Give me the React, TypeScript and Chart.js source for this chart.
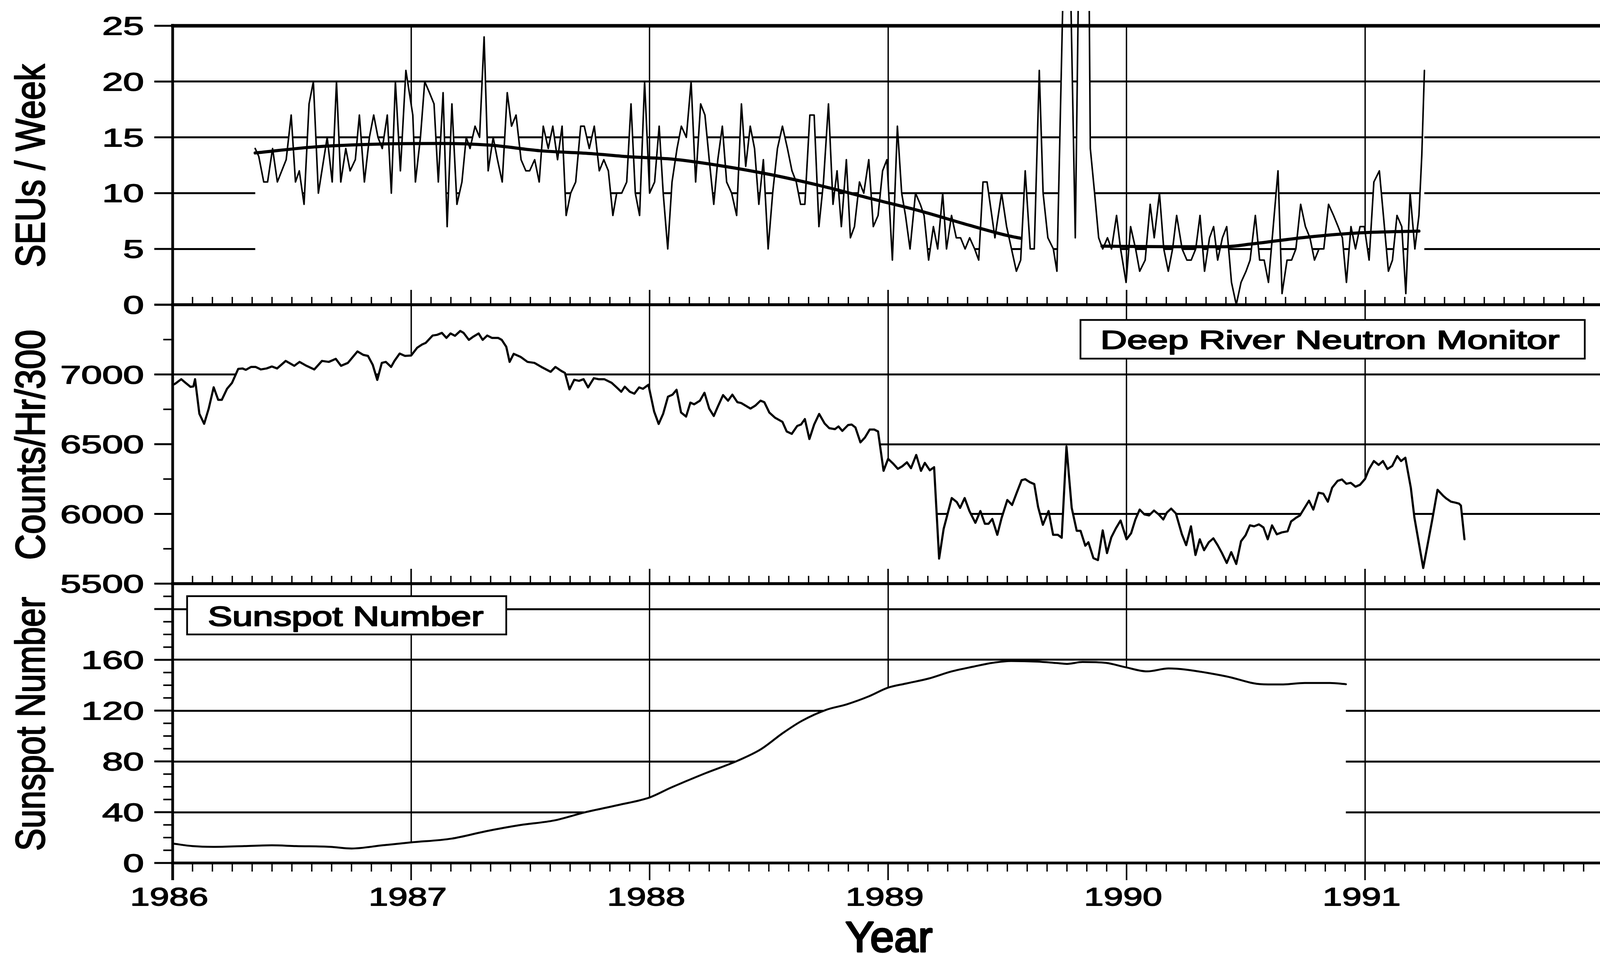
import { useEffect, useRef } from "react";
import { Chart, registerables } from "chart.js";
Chart.register(...registerables);

// ---------------- data ----------------
const yearTicks = [1986, 1987, 1988, 1989, 1990, 1991];
const seuTicks = [0, 5, 10, 15, 20, 25];
const neutronTicks = [5500, 6000, 6500, 7000];
const sunspotTicks = [0, 40, 80, 120, 160];

// weekly SEU counts (decimal year, count); off-scale spikes near 1989.8 run past the top
const seuYears = [
  1986.346, 1986.361, 1986.382, 1986.398, 1986.419, 1986.439, 1986.476, 1986.497, 1986.515, 1986.531,
  1986.551, 1986.572, 1986.59, 1986.611, 1986.648, 1986.669, 1986.687, 1986.705, 1986.726, 1986.744,
  1986.766, 1986.783, 1986.804, 1986.825, 1986.843, 1986.861, 1986.879, 1986.9, 1986.917, 1986.934,
  1986.955, 1986.978, 1987.007, 1987.018, 1987.039, 1987.057, 1987.077, 1987.096, 1987.114, 1987.134,
  1987.151, 1987.171, 1987.192, 1987.213, 1987.231, 1987.247, 1987.268, 1987.287, 1987.306, 1987.323,
  1987.344, 1987.362, 1987.382, 1987.403, 1987.421, 1987.44, 1987.461, 1987.481, 1987.497, 1987.518,
  1987.537, 1987.554, 1987.575, 1987.594, 1987.614, 1987.633, 1987.65, 1987.669, 1987.69, 1987.711,
  1987.726, 1987.747, 1987.768, 1987.789, 1987.808, 1987.827, 1987.846, 1987.862, 1987.883, 1987.904,
  1987.922, 1987.94, 1987.958, 1987.979, 1988.0, 1988.021, 1988.04, 1988.057, 1988.076, 1988.094,
  1988.115, 1988.133, 1988.154, 1988.174, 1988.193, 1988.214, 1988.232, 1988.25, 1988.269, 1988.286,
  1988.305, 1988.323, 1988.344, 1988.365, 1988.385, 1988.403, 1988.422, 1988.44, 1988.458, 1988.477,
  1988.497, 1988.516, 1988.536, 1988.557, 1988.578, 1988.597, 1988.615, 1988.633, 1988.651, 1988.672,
  1988.69, 1988.71, 1988.729, 1988.75, 1988.769, 1988.786, 1988.804, 1988.825, 1988.842, 1988.859,
  1988.88, 1988.898, 1988.919, 1988.938, 1988.958, 1988.977, 1988.995, 1989.018, 1989.039, 1989.057,
  1989.073, 1989.092, 1989.115, 1989.135, 1989.151, 1989.17, 1989.19, 1989.208, 1989.229, 1989.245,
  1989.266, 1989.286, 1989.304, 1989.323, 1989.342, 1989.363, 1989.38, 1989.398, 1989.415, 1989.448,
  1989.476, 1989.497, 1989.538, 1989.556, 1989.575, 1989.596, 1989.613, 1989.634, 1989.65, 1989.67,
  1989.693, 1989.708, 1989.751, 1989.785, 1989.808, 1989.837, 1989.848, 1989.866, 1989.883, 1989.9,
  1989.92, 1989.937, 1989.958, 1989.975, 1989.998, 1990.017, 1990.038, 1990.055, 1990.078, 1990.099,
  1990.116, 1990.138, 1990.156, 1990.175, 1990.193, 1990.21, 1990.233, 1990.253, 1990.271, 1990.29,
  1990.308, 1990.327, 1990.348, 1990.365, 1990.382, 1990.402, 1990.42, 1990.44, 1990.46, 1990.48,
  1990.501, 1990.518, 1990.54, 1990.558, 1990.577, 1990.595, 1990.615, 1990.635, 1990.652, 1990.673,
  1990.692, 1990.71, 1990.73, 1990.75, 1990.769, 1990.788, 1990.807, 1990.827, 1990.847, 1990.868,
  1990.887, 1990.905, 1990.922, 1990.941, 1990.96, 1990.979, 1990.997, 1991.017, 1991.037, 1991.06,
  1991.077, 1991.098, 1991.115, 1991.134, 1991.154, 1991.171, 1991.189, 1991.209, 1991.226, 1991.238,
  1991.249,
];
const seuCounts = [
  14, 13.3, 11, 11, 14, 11, 13, 17, 11, 12,
  9, 18, 20, 10, 15, 11, 20, 11, 14, 12,
  13, 17, 11, 15, 17, 15, 14, 17, 10, 20,
  12, 21, 17, 11, 15, 20, 19, 18, 11, 19,
  7, 18, 9, 11, 15, 14, 16, 15, 24, 12,
  15, 13, 11, 19, 16, 17, 13, 12, 12, 13,
  11, 16, 14, 16, 13, 16, 8, 10, 11, 16,
  16, 14, 16, 12, 13, 12, 8, 10, 10, 11,
  18, 10, 8, 20, 10, 11, 16, 10, 5, 11,
  14, 16, 15, 20, 11, 18, 17, 13, 9, 13,
  16, 11, 10, 8, 18, 12.4, 16, 14, 9, 13,
  5, 10, 14, 16, 14, 12, 11, 9, 9, 17,
  17, 7, 11, 18, 9, 12, 7, 13, 6, 7,
  11, 10, 13, 7, 8, 12, 13, 4, 16, 10,
  8, 5, 10, 9, 8, 4, 7, 5, 10, 5,
  8, 6, 6, 5, 6, 5, 4, 11, 11, 6,
  10, 7, 3, 4, 12, 5, 5, 21, 10, 6,
  5, 3, 45, 6, 45, 45, 14, 10, 6, 5,
  6, 5, 8, 5, 2, 7, 5, 3, 4, 9,
  6, 10, 5, 3, 5, 8, 5, 4, 4, 5,
  8, 3, 6, 7, 4, 6, 7, 2, 0, 2,
  3, 4, 8, 4, 4, 2, 7, 12, 1, 4,
  4, 5, 9, 7, 6, 4, 5, 5, 9, 8,
  7, 6, 2, 7, 5, 7, 7, 4, 11, 12,
  8, 3, 4, 8, 7, 1, 10, 5, 8, 13.4,
  21,
];

// smooth SEU trend (two pieces, null = gap)
const trendYears = [
  1986.346, 1986.6, 1986.87, 1987.12, 1987.33, 1987.54, 1987.75, 1987.92, 1988.094, 1988.3,
  1988.51, 1988.72, 1988.93, 1989.135, 1989.344, 1989.5, 1989.557, 1989.75, 1989.897, 1990.18,
  1990.41, 1990.526, 1990.755, 1990.985, 1991.226,
];
const trendValues = [
  13.6, 14.15, 14.4, 14.45, 14.3, 13.8, 13.55, 13.25, 13.05, 12.45,
  11.65, 10.65, 9.5, 8.4, 7.1, 6.2, 5.95, null, 5.25, 5.2,
  5.2, 5.45, 6.05, 6.45, 6.6,
];

// Deep River neutron monitor (counts/hr/300)
const neutronYears = [
  1986.0, 1986.01, 1986.036, 1986.054, 1986.075, 1986.087, 1986.094, 1986.112, 1986.132, 1986.151,
  1986.172, 1986.191, 1986.206, 1986.228, 1986.249, 1986.275, 1986.293, 1986.307, 1986.329, 1986.348,
  1986.37, 1986.394, 1986.416, 1986.438, 1986.474, 1986.51, 1986.532, 1986.561, 1986.594, 1986.626,
  1986.655, 1986.684, 1986.706, 1986.735, 1986.749, 1986.775, 1986.8, 1986.819, 1986.839, 1986.858,
  1986.877, 1986.894, 1986.916, 1986.93, 1986.952, 1986.974, 1987.0, 1987.025, 1987.046, 1987.061,
  1987.09, 1987.109, 1987.129, 1987.148, 1987.165, 1987.184, 1987.206, 1987.22, 1987.242, 1987.259,
  1987.283, 1987.3, 1987.319, 1987.339, 1987.365, 1987.38, 1987.399, 1987.413, 1987.43, 1987.459,
  1987.488, 1987.517, 1987.546, 1987.585, 1987.605, 1987.629, 1987.645, 1987.664, 1987.684, 1987.704,
  1987.723, 1987.742, 1987.766, 1987.786, 1987.81, 1987.841, 1987.862, 1987.881, 1987.896, 1987.917,
  1987.936, 1987.956, 1987.972, 1987.995, 1988.019, 1988.038, 1988.057, 1988.077, 1988.096, 1988.113,
  1988.132, 1988.153, 1988.171, 1988.187, 1988.211, 1988.23, 1988.25, 1988.269, 1988.286, 1988.308,
  1988.329, 1988.347, 1988.368, 1988.384, 1988.423, 1988.443, 1988.465, 1988.481, 1988.502, 1988.525,
  1988.557, 1988.575, 1988.596, 1988.619, 1988.635, 1988.651, 1988.67, 1988.69, 1988.711, 1988.734,
  1988.753, 1988.777, 1988.792, 1988.808, 1988.832, 1988.847, 1988.863, 1988.884, 1988.903, 1988.923,
  1988.942, 1988.958, 1988.981, 1989.0, 1989.02, 1989.041, 1989.06, 1989.079, 1989.096, 1989.118,
  1989.138, 1989.154, 1989.175, 1989.193, 1989.214, 1989.233, 1989.267, 1989.288, 1989.302, 1989.321,
  1989.341, 1989.366, 1989.387, 1989.406, 1989.421, 1989.437, 1989.458, 1989.476, 1989.5, 1989.52,
  1989.539, 1989.56, 1989.575, 1989.594, 1989.613, 1989.629, 1989.649, 1989.673, 1989.692, 1989.712,
  1989.728, 1989.748, 1989.77, 1989.791, 1989.807, 1989.827, 1989.84, 1989.861, 1989.88, 1989.9,
  1989.918, 1989.936, 1989.955, 1989.975, 1990.0, 1990.019, 1990.037, 1990.055, 1990.075, 1990.094,
  1990.115, 1990.135, 1990.154, 1990.169, 1990.187, 1990.207, 1990.232, 1990.25, 1990.27, 1990.289,
  1990.307, 1990.325, 1990.345, 1990.364, 1990.382, 1990.4, 1990.42, 1990.439, 1990.46, 1990.48,
  1990.499, 1990.517, 1990.535, 1990.555, 1990.574, 1990.592, 1990.61, 1990.63, 1990.652, 1990.675,
  1990.69, 1990.712, 1990.727, 1990.742, 1990.765, 1990.783, 1990.805, 1990.825, 1990.844, 1990.862,
  1990.885, 1990.903, 1990.922, 1990.94, 1990.96, 1990.979, 1991.0, 1991.017, 1991.037, 1991.057,
  1991.075, 1991.094, 1991.114, 1991.135, 1991.151, 1991.169, 1991.192, 1991.207, 1991.244, 1991.282,
  1991.304, 1991.327, 1991.342, 1991.36, 1991.379, 1991.394, 1991.402, 1991.417,
];
const neutronCounts = [
  6925, 6933, 6966, 6940, 6911, 6914, 6966, 6718, 6646, 6754,
  6908, 6818, 6818, 6897, 6940, 7040, 7043, 7033, 7054, 7054,
  7036, 7043, 7057, 7043, 7097, 7062, 7090, 7062, 7036, 7097,
  7090, 7112, 7062, 7083, 7112, 7165, 7140, 7133, 7069, 6961,
  7083, 7090, 7054, 7097, 7150, 7133, 7136, 7191, 7215, 7226,
  7279, 7284, 7298, 7262, 7294, 7277, 7312, 7298, 7248, 7269,
  7294, 7248, 7279, 7262, 7262, 7248, 7198, 7090, 7148, 7126,
  7090, 7083, 7054, 7019, 7054, 7026, 7011, 6893, 6962, 6954,
  6966, 6907, 6973, 6966, 6966, 6940, 6907, 6876, 6912, 6876,
  6862, 6907, 6897, 6926, 6734, 6645, 6719, 6840, 6855, 6890,
  6727, 6698, 6798, 6786, 6812, 6869, 6755, 6702, 6769, 6852,
  6812, 6855, 6801, 6795, 6755, 6776, 6812, 6801, 6727, 6691,
  6660, 6591, 6574, 6631, 6641, 6680, 6537, 6641, 6717, 6648,
  6615, 6608, 6627, 6595, 6637, 6641, 6620, 6513, 6548, 6605,
  6605, 6591, 6309, 6395, 6363, 6323, 6342, 6370, 6328, 6423,
  6309, 6366, 6313, 6335, 5680, 5893, 6114, 6085, 6043, 6114,
  6021, 5936, 6021, 5929, 5929, 5964, 5850, 5971, 6100, 6064,
  6150, 6242, 6249, 6228, 6214, 6050, 5922, 6021, 5850, 5850,
  5829, 6484, 6043, 5879, 5879, 5772, 5797, 5683, 5669, 5882,
  5719, 5832, 5896, 5953, 5818, 5861, 5960, 6031, 5996, 5989,
  6024, 5996, 5960, 6010, 6038, 6003, 5854, 5776, 5911, 5705,
  5818, 5740, 5797, 5825, 5776, 5719, 5648, 5726, 5641, 5804,
  5847, 5918, 5911, 5925, 5903, 5818, 5918, 5854, 5868, 5875,
  5946, 5974, 5989, 6031, 6095, 6031, 6152, 6145, 6088, 6188,
  6237, 6247, 6216, 6223, 6195, 6209, 6251, 6322, 6379, 6351,
  6379, 6322, 6344, 6415, 6379, 6403, 6188, 5974, 5612, 5960,
  6173, 6131, 6109, 6088, 6081, 6074, 6060, 5818,
];

// smoothed sunspot number
const sunspotYears = [
  1986.0, 1986.083, 1986.17, 1986.3, 1986.416, 1986.517, 1986.662, 1986.75, 1986.88, 1987.0,
  1987.17, 1987.314, 1987.459, 1987.6, 1987.729, 1987.87, 1988.0, 1988.089, 1988.23, 1988.371,
  1988.466, 1988.56, 1988.638, 1988.74, 1988.826, 1988.92, 1989.0, 1989.077, 1989.171, 1989.265,
  1989.359, 1989.437, 1989.516, 1989.625, 1989.704, 1989.75, 1989.815, 1989.913, 1989.995, 1990.086,
  1990.176, 1990.251, 1990.417, 1990.567, 1990.657, 1990.747, 1990.853, 1990.92,
];
const sunspotValues = [
  15.3, 13.3, 12.7, 13.3, 13.9, 13.3, 12.7, 11.4, 13.9, 16.2,
  19.2, 25, 29.9, 33.5, 39.9, 45.7, 51.6, 59.3, 70.4, 80.7,
  89.5, 102.5, 111.9, 120.6, 124.9, 131.3, 138.1, 141.4, 145.3, 150.8,
  154.7, 157.6, 159.1, 158.6, 157.5, 156.8, 158.3, 157.6, 154.2, 150.9,
  153.2, 152.2, 147, 140.8, 140.6, 141.8, 141.8, 140.8,
];

// ---------------- layout / style ----------------
const PAGE_W = 4137;
const PAGE_H = 2442;
const PLOT_L = 442;
const PLOT_R = 4105;
const INK = "#000";
const FONT = '"Liberation Sans", Arial, Helvetica, sans-serif';

type Box = { x: number; y: number; w: number; h: number; text: string; tx: number; base: number; capH: number; width: number };
type PanelSpec = {
  canvasTop: number;
  canvasBottom: number;
  top: number;
  bottom: number;
  min: number;
  max: number;
  step: number;
  minorStep: number;
  labels: number[];
  title: string;
  titleCenter: number;
  titleWidth: number;
  topW: number;
  ticksDown: boolean;
  box?: Box;
  xLabels?: boolean;
};

const PANELS: PanelSpec[] = [
  { canvasTop: 0, canvasBottom: 830, top: 66, bottom: 780, min: 0, max: 25, step: 5, minorStep: 0,
    labels: seuTicks, title: "SEUs / Week", titleCenter: 422, titleWidth: 518, topW: 9, ticksDown: false },
  { canvasTop: 760, canvasBottom: 1530, top: 780, bottom: 1494, min: 5500, max: 7500, step: 500, minorStep: 250,
    labels: neutronTicks, title: "Counts/Hr/300", titleCenter: 1138, titleWidth: 582, topW: 7, ticksDown: false,
    box: { x: 2766, y: 819, w: 1291, h: 99, text: "Deep River Neutron Monitor", tx: 2824, base: 893, capH: 48, width: 1168 } },
  { canvasTop: 1470, canvasBottom: PAGE_H, top: 1494, bottom: 2209, min: 0, max: 220, step: 40, minorStep: 10,
    labels: sunspotTicks, title: "Sunspot Number", titleCenter: 1852, titleWidth: 646, topW: 7, ticksDown: true,
    box: { x: 479, y: 1526, w: 817, h: 98, text: "Sunspot Number", tx: 536, base: 1602, capH: 51, width: 701 },
    xLabels: true },
];

function seg(ctx: CanvasRenderingContext2D, x1: number, y1: number, x2: number, y2: number) {
  ctx.beginPath();
  ctx.moveTo(x1, y1);
  ctx.lineTo(x2, y2);
  ctx.stroke();
}

// draws text whose visible box is placed by (x, baseline) with a horizontal stretch;
// a thin outline of the same ink gives the heavier, scanned look of the original lettering
function drawText(
  ctx: CanvasRenderingContext2D, text: string, x: number, y: number, capH: number,
  o: { width?: number; stretch?: number; align?: "left" | "center" | "right"; rotate?: boolean; weight?: number }
) {
  const size = capH / 0.716;
  ctx.save();
  ctx.font = `${size}px ${FONT}`;
  ctx.textAlign = "left";
  ctx.textBaseline = "alphabetic";
  ctx.fillStyle = INK;
  ctx.strokeStyle = INK;
  ctx.lineJoin = "round";
  const m = ctx.measureText(text);
  const L = m.actualBoundingBoxLeft;
  const R = m.actualBoundingBoxRight;
  const vis = L + R;
  const sx = o.width ? o.width / vis : o.stretch ?? 1;
  const align = o.align ?? "left";
  const dx = align === "left" ? L : align === "center" ? (L - R) / 2 : -R;
  ctx.translate(x, y);
  if (o.rotate) ctx.rotate(-Math.PI / 2);
  ctx.scale(sx, 1);
  ctx.fillText(text, dx, 0);
  ctx.lineWidth = (o.weight ?? 0.03) * size;
  ctx.strokeText(text, dx, 0);
  ctx.restore();
}

function panelPlugin(p: PanelSpec, idx: number) {
  const off = p.canvasTop;
  return {
    id: "panelFrame" + idx,
    afterDatasetsDraw(chart: any) {
      const { ctx, chartArea: a } = chart;
      const xs = chart.scales.x;
      const ys = chart.scales.y;
      ctx.save();
      ctx.strokeStyle = INK;
      ctx.lineCap = "butt";
      // monthly ticks along the bottom of the panel
      for (let m = 1; m < 72; m++) {
        const major = m % 12 === 0;
        const px = xs.getPixelForValue(1986 + m / 12);
        const len = p.ticksDown ? (major ? 44 : 22) : major ? 38 : 20;
        ctx.lineWidth = major ? 4 : 3.5;
        seg(ctx, px, a.bottom, px, p.ticksDown ? a.bottom + len : a.bottom - len);
      }
      // y ticks (outward)
      for (let v = p.min; v <= p.max + 1e-9; v += p.step) {
        const py = ys.getPixelForValue(v);
        ctx.lineWidth = 5;
        seg(ctx, a.left - 47, py, a.left, py);
      }
      if (p.minorStep) {
        for (let v = p.min; v <= p.max + 1e-9; v += p.minorStep) {
          if (Math.abs((v - p.min) % p.step) < 1e-9) continue;
          const py = ys.getPixelForValue(v);
          ctx.lineWidth = 4;
          seg(ctx, a.left - 24, py, a.left, py);
        }
      }
      // frame
      const ext = p.ticksDown ? 44 : 0;
      ctx.lineWidth = p.topW;
      seg(ctx, a.left - 4, a.top, a.right + 5, a.top);
      ctx.lineWidth = 7;
      seg(ctx, a.left - 4, a.bottom, a.right + 5, a.bottom);
      ctx.lineWidth = 7;
      seg(ctx, a.left, a.top - p.topW / 2, a.left, a.bottom + ext);
      ctx.lineWidth = 9;
      seg(ctx, a.right, a.top - p.topW / 2, a.right, a.bottom + ext);
      ctx.restore();
    },
    afterDraw(chart: any) {
      const { ctx, chartArea: a } = chart;
      const xs = chart.scales.x;
      const ys = chart.scales.y;
      // tick labels
      p.labels.forEach((v) => {
        const py = ys.getPixelForValue(v);
        drawText(ctx, String(v), a.left - 76, py + 23, 46, { stretch: 1.5, align: "right" });
      });
      // axis title
      drawText(ctx, p.title, 114, p.titleCenter - off, 76, { width: p.titleWidth, align: "center", rotate: true, weight: 0.028 });
      // legend box
      if (p.box) {
        const b = p.box;
        ctx.save();
        ctx.fillStyle = "#fff";
        ctx.fillRect(b.x, b.y - off, b.w, b.h);
        ctx.strokeStyle = INK;
        ctx.lineWidth = 4.5;
        ctx.strokeRect(b.x, b.y - off, b.w, b.h);
        ctx.restore();
        drawText(ctx, b.text, b.tx, b.base - off, b.capH, { width: b.width, align: "left", weight: 0.038 });
      }
      if (p.xLabels) {
        yearTicks.forEach((yr) => {
          const px = xs.getPixelForValue(yr);
          drawText(ctx, String(yr), px - 7, 2318 - off, 47, { stretch: 1.37, align: "center" });
        });
        drawText(ctx, "Year", 2276, 2436 - off, 78, { width: 220, align: "center", weight: 0.04 });
      }
    },
  };
}

function pts(xs: number[], ys: (number | null)[]) {
  return xs.map((x, i) => ({ x, y: ys[i] }));
}

function buildConfig(idx: number): any {
  const p = PANELS[idx];
  const canvasH = p.canvasBottom - p.canvasTop;
  const lineBase = {
    borderColor: INK,
    pointRadius: 0,
    borderJoinStyle: "round",
    borderCapStyle: "round",
  };
  let datasets: any[] = [];
  if (idx === 0) {
    const clip = { left: 6, right: 6, top: 38, bottom: 6 };
    datasets = [
      { ...lineBase, label: "Trend", data: pts(trendYears, trendValues), borderWidth: 8, fill: false,
        cubicInterpolationMode: "monotone", spanGaps: false, order: 0, clip },
      { ...lineBase, label: "SEUs / Week", data: pts(seuYears, seuCounts), borderWidth: 4, fill: "start",
        backgroundColor: "#fff", tension: 0, order: 1, clip },
    ];
  } else if (idx === 1) {
    datasets = [
      { ...lineBase, label: "Deep River Neutron Monitor", data: pts(neutronYears, neutronCounts), borderWidth: 5.5,
        fill: "start", backgroundColor: "#fff", tension: 0 },
    ];
  } else {
    datasets = [
      { ...lineBase, label: "Sunspot Number", data: pts(sunspotYears, sunspotValues), borderWidth: 5,
        fill: "start", backgroundColor: "#fff", cubicInterpolationMode: "monotone" },
    ];
  }
  return {
    type: "line",
    data: { datasets },
    options: {
      animation: false,
      responsive: false,
      devicePixelRatio: 1,
      events: [],
      layout: {
        padding: {
          left: PLOT_L,
          right: PAGE_W - PLOT_R,
          top: p.top - p.canvasTop,
          bottom: canvasH - (p.bottom - p.canvasTop),
        },
      },
      plugins: { legend: { display: false }, tooltip: { enabled: false } },
      scales: {
        x: {
          type: "linear",
          min: 1986,
          max: 1992,
          ticks: { display: false, stepSize: 1 },
          grid: { color: INK, lineWidth: 3.5, drawTicks: false },
          border: { display: false },
        },
        y: {
          type: "linear",
          position: "left",
          min: p.min,
          max: p.max,
          ticks: { display: false, stepSize: p.step },
          grid: { color: INK, lineWidth: 5, drawTicks: false },
          border: { display: false },
        },
      },
    },
    plugins: [panelPlugin(p, idx)],
  };
}

export default function App() {
  const refs = useRef<(HTMLCanvasElement | null)[]>([]);
  useEffect(() => {
    document.body.style.margin = "0";
    document.body.style.background = "#fff";
    const charts = PANELS.map((_, i) => new Chart(refs.current[i] as HTMLCanvasElement, buildConfig(i)));
    return () => charts.forEach((c) => c.destroy());
  }, []);
  return (
    <div style={{ position: "relative", width: PAGE_W, height: PAGE_H, background: "#fff", overflow: "hidden" }}>
      {PANELS.map((p, i) => (
        <canvas
          key={i}
          ref={(el) => {
            refs.current[i] = el;
          }}
          width={PAGE_W}
          height={p.canvasBottom - p.canvasTop}
          style={{ position: "absolute", left: 0, top: p.canvasTop, width: PAGE_W, height: p.canvasBottom - p.canvasTop }}
        />
      ))}
    </div>
  );
}
